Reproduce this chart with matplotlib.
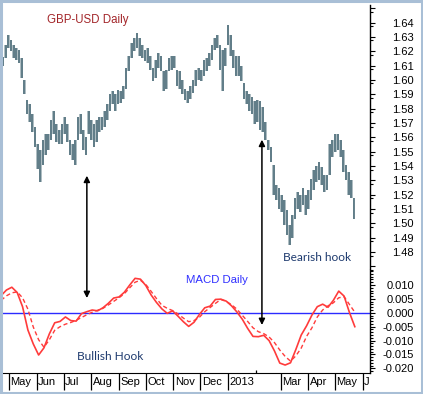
#!/usr/bin/python3
#
# GBP-USD daily bars with MACD panel
#
import numpy as np
import pandas as pd
import matplotlib
matplotlib.use('Agg')
import matplotlib.pyplot as plt
import matplotlib.dates as mdates
from matplotlib.patches import ConnectionPatch, Rectangle
#
plt.rcParams['font.family'] = ['Liberation Sans', 'DejaVu Sans']
plt.rcParams['axes.unicode_minus'] = False
#
# price bars (one bar every 3 days, high / low)
#
bar_start = '2012-04-24'
bar_high = [1.616, 1.624, 1.631, 1.628, 1.624, 1.622, 1.621, 1.615, 1.600, 1.586,
            1.583, 1.576, 1.567, 1.555, 1.551, 1.558, 1.562, 1.562, 1.572, 1.578,
            1.569, 1.565, 1.569, 1.574, 1.569, 1.558, 1.555, 1.558, 1.574, 1.576,
            1.565, 1.560, 1.578, 1.572, 1.569, 1.572, 1.574, 1.574, 1.578, 1.583,
            1.590, 1.592, 1.590, 1.593, 1.592, 1.596, 1.608, 1.617, 1.626, 1.629,
            1.633, 1.629, 1.624, 1.621, 1.622, 1.617, 1.608, 1.614, 1.619, 1.617,
            1.606, 1.607, 1.615, 1.617, 1.617, 1.607, 1.606, 1.600, 1.594, 1.592,
            1.596, 1.600, 1.607, 1.608, 1.607, 1.614, 1.615, 1.619, 1.624, 1.629,
            1.631, 1.624, 1.621, 1.622, 1.638, 1.631, 1.621, 1.617, 1.617, 1.610,
            1.598, 1.592, 1.590, 1.588, 1.585, 1.586, 1.585, 1.581, 1.571, 1.558,
            1.553, 1.541, 1.527, 1.525, 1.520, 1.516, 1.509, 1.499, 1.506, 1.518,
            1.522, 1.520, 1.525, 1.520, 1.523, 1.531, 1.537, 1.540, 1.543, 1.539,
            1.534, 1.534, 1.555, 1.558, 1.562, 1.562, 1.558, 1.551, 1.541, 1.536,
            1.530, 1.518]
bar_low = [1.610, 1.615, 1.622, 1.620, 1.615, 1.614, 1.612, 1.601, 1.590, 1.576,
           1.571, 1.564, 1.553, 1.538, 1.529, 1.541, 1.548, 1.551, 1.558, 1.562,
           1.557, 1.555, 1.555, 1.562, 1.557, 1.548, 1.544, 1.541, 1.558, 1.562,
           1.551, 1.548, 1.562, 1.558, 1.553, 1.557, 1.564, 1.565, 1.567, 1.572,
           1.578, 1.583, 1.578, 1.583, 1.584, 1.587, 1.594, 1.606, 1.615, 1.620,
           1.622, 1.617, 1.615, 1.613, 1.612, 1.607, 1.599, 1.601, 1.608, 1.606,
           1.592, 1.594, 1.606, 1.607, 1.608, 1.596, 1.594, 1.590, 1.586, 1.584,
           1.587, 1.591, 1.596, 1.600, 1.599, 1.603, 1.606, 1.610, 1.614, 1.621,
           1.622, 1.607, 1.592, 1.610, 1.624, 1.617, 1.608, 1.603, 1.603, 1.599,
           1.587, 1.583, 1.578, 1.576, 1.569, 1.571, 1.565, 1.564, 1.558, 1.551,
           1.543, 1.520, 1.516, 1.510, 1.508, 1.499, 1.492, 1.485, 1.490, 1.503,
           1.510, 1.508, 1.513, 1.506, 1.510, 1.516, 1.523, 1.529, 1.530, 1.527,
           1.522, 1.523, 1.534, 1.546, 1.550, 1.551, 1.546, 1.536, 1.530, 1.520,
           1.518, 1.503]
#
# MACD and signal (one value every 6 days)
#
macd_start = '2012-04-22'
macd = [0.0062, 0.0082, 0.0092, 0.0073, 0.0022, -0.0062, -0.0112, -0.0152, -0.0126, -0.0076,
        -0.0036, -0.0031, -0.0015, -0.0028, -0.0030, -0.0003, 0.0004, 0.0010, 0.0007, 0.0018,
        0.0034, 0.0053, 0.0057, 0.0074, 0.0100, 0.0124, 0.0121, 0.0098, 0.0064, 0.0037,
        0.0014, -0.0002, 0.0007, -0.0012, -0.0032, -0.0049, -0.0034, -0.0006, 0.0018, 0.0024,
        0.0048, 0.0049, 0.0042, 0.0025, 0.0003, -0.0023, -0.0056, -0.0085, -0.0086, -0.0081,
        -0.0100, -0.0137, -0.0181, -0.0188, -0.0180, -0.0132, -0.0080, -0.0047, -0.0008, 0.0022,
        0.0031, 0.0020, 0.0045, 0.0078, 0.0060, 0.0001, -0.0050]
signal = [0.0045, 0.0061, 0.0072, 0.0075, 0.0054, 0.0013, -0.0051, -0.0097, -0.0124, -0.0097,
          -0.0063, -0.0050, -0.0041, -0.0035, -0.0027, -0.0017, -0.0007, 0.0002, 0.0009, 0.0016,
          0.0028, 0.0041, 0.0054, 0.0069, 0.0090, 0.0110, 0.0117, 0.0102, 0.0077, 0.0051,
          0.0027, 0.0016, 0.0008, -0.0004, -0.0019, -0.0032, -0.0028, -0.0016, 0.0004, 0.0019,
          0.0034, 0.0048, 0.0041, 0.0029, 0.0013, -0.0009, -0.0031, -0.0054, -0.0068, -0.0075,
          -0.0087, -0.0107, -0.0134, -0.0157, -0.0174, -0.0155, -0.0127, -0.0085, -0.0054, -0.0015,
          0.0010, 0.0025, 0.0036, 0.0054, 0.0058, 0.0030, 0.0002]
#
# month labels along the bottom
#
month_starts = ['2012-05-01', '2012-06-01', '2012-07-01', '2012-08-01', '2012-09-01',
                '2012-10-01', '2012-11-01', '2012-12-01', '2013-01-01', '2013-03-01',
                '2013-04-01', '2013-05-01', '2013-06-01']
month_labels = ['May', 'Jun', 'Jul', 'Aug', 'Sep', 'Oct', 'Nov', 'Dec', '2013',
                'Mar', 'Apr', 'May', 'J']
#
price_ticks = [1.48, 1.49, 1.50, 1.51, 1.52, 1.53, 1.54, 1.55, 1.56,
               1.57, 1.58, 1.59, 1.60, 1.61, 1.62, 1.63, 1.64]
macd_ticks = [-0.020, -0.015, -0.010, -0.005, 0.000, 0.005, 0.010]
#
# arrows: (date, price end, macd end)
#
arrow_dates = ['2012-07-27', '2013-02-08']
arrow_price = [1.5332, 1.5583]
arrow_macd = [0.0053, -0.0044]
#
bar_dates = pd.date_range(bar_start, periods=len(bar_high), freq='3D')
macd_dates = pd.date_range(macd_start, periods=len(macd), freq='6D')
#
W, H = 423, 394
fig = plt.figure(figsize=(W / 100, H / 100), dpi=100)
fig.patch.set_facecolor('white')
#
ax1 = fig.add_axes([2 / W, 1 - 270 / H, 368 / W, 265 / H])
ax2 = fig.add_axes([2 / W, 1 - 373 / H, 368 / W, 103 / H], sharex=ax1)
#
# price panel: light body behind the dark high-low bars
#
ax1.fill_between(bar_dates, bar_low, bar_high, step='mid', color='#aebdc2', lw=0)
ax1.vlines(bar_dates, bar_low, bar_high, color='#5a7883', lw=1.3)
ax1.set_ylim(1.4678, 1.6522)
ax1.set_xlim(pd.Timestamp('2012-04-23'), pd.Timestamp('2013-06-09'))
#
# MACD panel
#
ax2.axhline(0, color='#2b2bff', lw=1.0)
ax2.plot(macd_dates, macd, color='#ff3b3b', lw=1.2)
ax2.plot(macd_dates, signal, color='#ff3b3b', lw=1.0, dashes=(3, 2))
ax2.set_ylim(-0.02167, 0.0154)
#
for ax in (ax1, ax2):
    ax.set_facecolor('white')
    for s in ('left', 'top', 'bottom'):
        ax.spines[s].set_visible(False)
    ax.spines['right'].set_color('black')
    ax.spines['right'].set_linewidth(1.0)
    ax.yaxis.tick_right()
    ax.tick_params(axis='y', which='major', length=3.6, width=0.8, color='black',
                   labelsize=8, pad=28)
    ax.tick_params(axis='y', which='minor', length=2.2, width=0.8, color='black')
#
ax2.spines['bottom'].set_visible(True)
ax2.spines['bottom'].set_color('black')
#
ax1.set_yticks(price_ticks + [1.47, 1.65])
ax1.set_yticklabels(['%.2f' % v for v in price_ticks] + ['', ''])
ax1.set_yticks(np.arange(1.4675, 1.652, 0.01), minor=True)
ax2.set_yticks(macd_ticks)
ax2.set_yticklabels(['%.3f' % v for v in macd_ticks])
ax2.set_yticks(np.arange(-0.021, 0.0151, 0.001), minor=True)
for ax in (ax1, ax2):
    for lab in ax.get_yticklabels():
        lab.set_horizontalalignment('right')
#
# month separators and labels
#
ax1.tick_params(axis='x', which='both', bottom=False, labelbottom=False)
ax2.set_xticks(pd.to_datetime(month_starts))
ax2.set_xticklabels([])
ax2.tick_params(axis='x', which='major', length=12.2, width=0.9, color='black',
                direction='out')
ax2.set_xticks([pd.Timestamp('2013-02-01')], minor=True)
ax2.tick_params(axis='x', which='minor', length=2.5, width=0.9, color='black',
                direction='in')
for d, lab in zip(pd.to_datetime(month_starts), month_labels):
    ax2.text(d + pd.Timedelta(days=1.5), -0.088, lab, transform=ax2.get_xaxis_transform(),
             ha='left', va='center', fontsize=8, color='black', clip_on=False)
#
# texts
#
ax1.text(0.234, 0.944, 'GBP-USD Daily', transform=ax1.transAxes, ha='center',
         va='center', fontsize=8.3, color='#a3262a')
ax2.text(0.585, 0.90, 'MACD Daily', transform=ax2.transAxes, ha='center',
         va='center', fontsize=8.2, color='#3030ff')
ax2.text(0.295, 0.16, 'Bullish Hook', transform=ax2.transAxes, ha='center',
         va='center', fontsize=8.6, color='#1f3b6f', family=['Lato', 'DejaVu Sans'])
ax1.text(0.857, 0.047, 'Bearish hook', transform=ax1.transAxes, ha='center',
         va='center', fontsize=8.6, color='#1f3b6f', family=['Lato', 'DejaVu Sans'])
#
# double headed arrows linking the two panels
#
for d, p, m in zip(pd.to_datetime(arrow_dates), arrow_price, arrow_macd):
    con = ConnectionPatch(xyA=(mdates.date2num(d), p), coordsA=ax1.transData,
                          xyB=(mdates.date2num(d), m), coordsB=ax2.transData,
                          arrowstyle='<|-|>', mutation_scale=9, lw=1.1,
                          color='black', shrinkA=0, shrinkB=0)
    fig.add_artist(con)
#
# window frame
#
fig.add_artist(Rectangle((0.002, 0.003), 0.996, 0.994, transform=fig.transFigure,
                         fill=False, edgecolor='#a9bfd6', lw=2.2))
#
fig.savefig('out.png', dpi=100)
